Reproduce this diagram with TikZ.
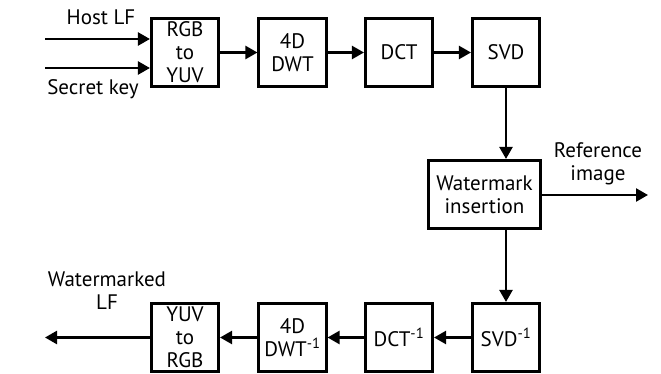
\documentclass[tikz,border=0pt]{standalone}
\usepackage{fontspec}
\setmainfont{PT Sans}
\usetikzlibrary{arrows.meta}
\begin{document}
\begin{tikzpicture}[x=1pt,y=-1pt,
  blk/.style={draw,line width=2.6pt,minimum width=67.5pt,minimum height=68.5pt,align=center,inner sep=0pt,font=\fontsize{21}{23}\selectfont},
  lbl/.style={align=center,inner sep=0pt,font=\fontsize{21}{23}\selectfont},
  conn/.style={line width=2.4pt,-{Triangle[length=12pt,width=13pt]}}]
\useasboundingbox (0,0) rectangle (661,374);
\node[blk] (rgb) at (185,52.5) {RGB\\to\\YUV};
\node[blk] (dwt) at (292.5,52.5) {4D\\DWT};
\node[blk] (dct) at (399,52.5) {DCT};
\node[blk] (svd) at (506,52.5) {SVD};
\node[blk,minimum width=112.5pt] (wm) at (484.5,194.5) {Watermark\\insertion};
\node[blk] (svdi) at (506,337.5) {SVD\textsuperscript{-1}};
\node[blk] (dcti) at (399,337.5) {DCT\textsuperscript{-1}};
\node[blk] (dwti) at (292.5,337.5) {4D\\DWT\textsuperscript{-1}};
\node[blk] (yuv) at (185,337.5) {YUV\\to\\RGB};
\coordinate (hin) at (45,39);
\coordinate (kin) at (45,68);
\coordinate (refout) at (648,195);
\coordinate (lfout) at (45,337.5);
\node[lbl] (hostl) at (101,17) {Host LF};
\node[lbl] (keyl) at (93,89) {Secret key};
\node[lbl] (refl) at (598,164) {Reference\\image};
\node[lbl] (wml) at (107,291) {Watermarked\\LF};
\draw[conn] (hin) -- (hin -| rgb.west);
\draw[conn] (kin) -- (kin -| rgb.west);
\draw[conn] (rgb) -- (dwt);
\draw[conn] (dwt) -- (dct);
\draw[conn] (dct) -- (svd);
\draw[conn] (svd.south) -- (svd.south |- wm.north);
\draw[conn] (wm.east |- refout) -- (refout);
\draw[conn] (svdi.north |- wm.south) -- (svdi.north);
\draw[conn] (svdi) -- (dcti);
\draw[conn] (dcti) -- (dwti);
\draw[conn] (dwti) -- (yuv);
\draw[conn] (yuv) -- (lfout);
\end{tikzpicture}
\end{document}
